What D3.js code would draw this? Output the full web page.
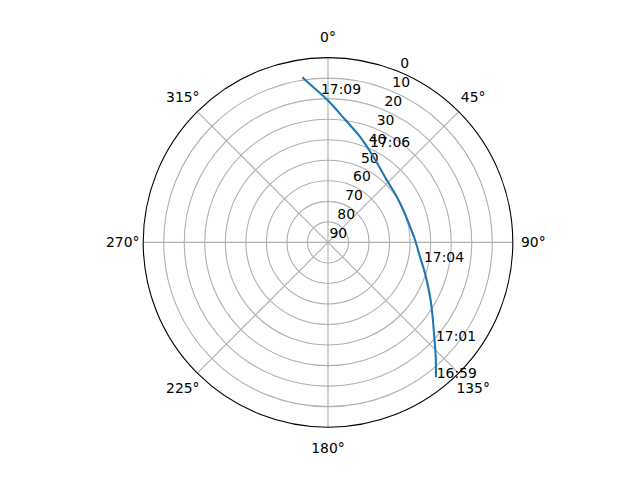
<!DOCTYPE html>
<html>
<head>
<meta charset="utf-8">
<script src="https://cdn.jsdelivr.net/npm/d3@7"></script>
<style>
  body { margin: 0; background: #fff; }
  text { font-family: "DejaVu Sans", sans-serif; font-size: 13.9px; fill: #000; }
</style>
</head>
<body>
<div id="chart"></div>
<script>
// satellite pass, azimuth (deg, clockwise from north) / elevation (deg)
var trackAz = [141.3, 136.7, 131.6, 125.4, 118.0, 107.7, 98.8, 88.4, 79.2, 66.7, 56.4, 43.3, 27.9, 16.8, 7.9, 0.1, 353.5, 351.2];
var trackEl = [5.9, 13.5, 20.8, 27.5, 33.7, 40.4, 44.7, 47.6, 49.3, 50.1, 49.8, 48.3, 42.8, 36.2, 29.6, 21.0, 12.5, 8.6];

var labelTimes = ["16:59", "17:01", "17:04", "17:06", "17:09"];
var labelAz = [141.2, 132.3, 101.5, 23.8, 357.3];
var labelEl = [5.5, 18.9, 42.3, 39.2, 17.6];

var rTicks = [0, 10, 20, 30, 40, 50, 60, 70, 80, 90];
var thetaTicks = [0, 45, 90, 135, 180, 225, 270, 315];

var w = 640, h = 480;
var cx = 328, cy = 242.4, R = 184.8;
var rlabelAngle = 22.5;

var svg = d3.select("#chart").append("svg")
    .attr("width", w)
    .attr("height", h);

var g = svg.append("g")
    .attr("transform", "translate(" + cx + "," + cy + ")");

// elevation: 90 at centre, 0 at rim
var r = d3.scaleLinear().domain([90, 0]).range([0, R]);
var rad = function (d) { return d * Math.PI / 180; };

function px(az, el) { return r(el) * Math.sin(rad(az)); }
function py(az, el) { return -r(el) * Math.cos(rad(az)); }

// circle grid
g.selectAll(".rgrid")
    .data(rTicks.filter(function (d) { return d > 0 && d < 90; }))
    .enter().append("circle")
    .attr("class", "rgrid")
    .attr("r", function (d) { return r(d); })
    .attr("fill", "none")
    .attr("stroke", "#b0b0b0")
    .attr("stroke-width", 1.1);

// spokes
g.selectAll(".tgrid")
    .data(thetaTicks)
    .enter().append("line")
    .attr("class", "tgrid")
    .attr("x1", 0).attr("y1", 0)
    .attr("x2", function (d) { return px(d, 0); })
    .attr("y2", function (d) { return py(d, 0); })
    .attr("stroke", "#b0b0b0")
    .attr("stroke-width", 1.1);

// outer spine
g.append("circle")
    .attr("r", r(0))
    .attr("fill", "none")
    .attr("stroke", "#000")
    .attr("stroke-width", 1.1);

// theta labels
g.selectAll(".tlabel")
    .data(thetaTicks)
    .enter().append("text")
    .attr("class", "tlabel")
    .attr("x", function (d) { return (R + 20.5) * Math.sin(rad(d)); })
    .attr("y", function (d) { return -(R + 20.5) * Math.cos(rad(d)); })
    .attr("text-anchor", "middle")
    .attr("dominant-baseline", "central")
    .text(function (d) { return d + "\u00b0"; });

// radial labels
g.selectAll(".rlabel")
    .data(rTicks)
    .enter().append("text")
    .attr("class", "rlabel")
    .attr("x", function (d) { return px(rlabelAngle, d) + 1.5; })
    .attr("y", function (d) { return py(rlabelAngle, d) - 4; })
    .attr("text-anchor", "start")
    .text(function (d) { return d; });

// track
var track = trackAz.map(function (a, i) { return [rad(a), r(trackEl[i])]; });
var line = d3.lineRadial()
    .angle(function (d) { return d[0]; })
    .radius(function (d) { return d[1]; })
    .curve(d3.curveCatmullRom);

g.append("path")
    .datum(track)
    .attr("d", line)
    .attr("fill", "none")
    .attr("stroke", "#1f77b4")
    .attr("stroke-width", 2.1);

// time labels
g.selectAll(".time")
    .data(labelTimes)
    .enter().append("text")
    .attr("class", "time")
    .attr("x", function (d, i) { return px(labelAz[i], labelEl[i]); })
    .attr("y", function (d, i) { return py(labelAz[i], labelEl[i]); })
    .attr("text-anchor", "start")
    .text(function (d) { return d; });
</script>
</body>
</html>
